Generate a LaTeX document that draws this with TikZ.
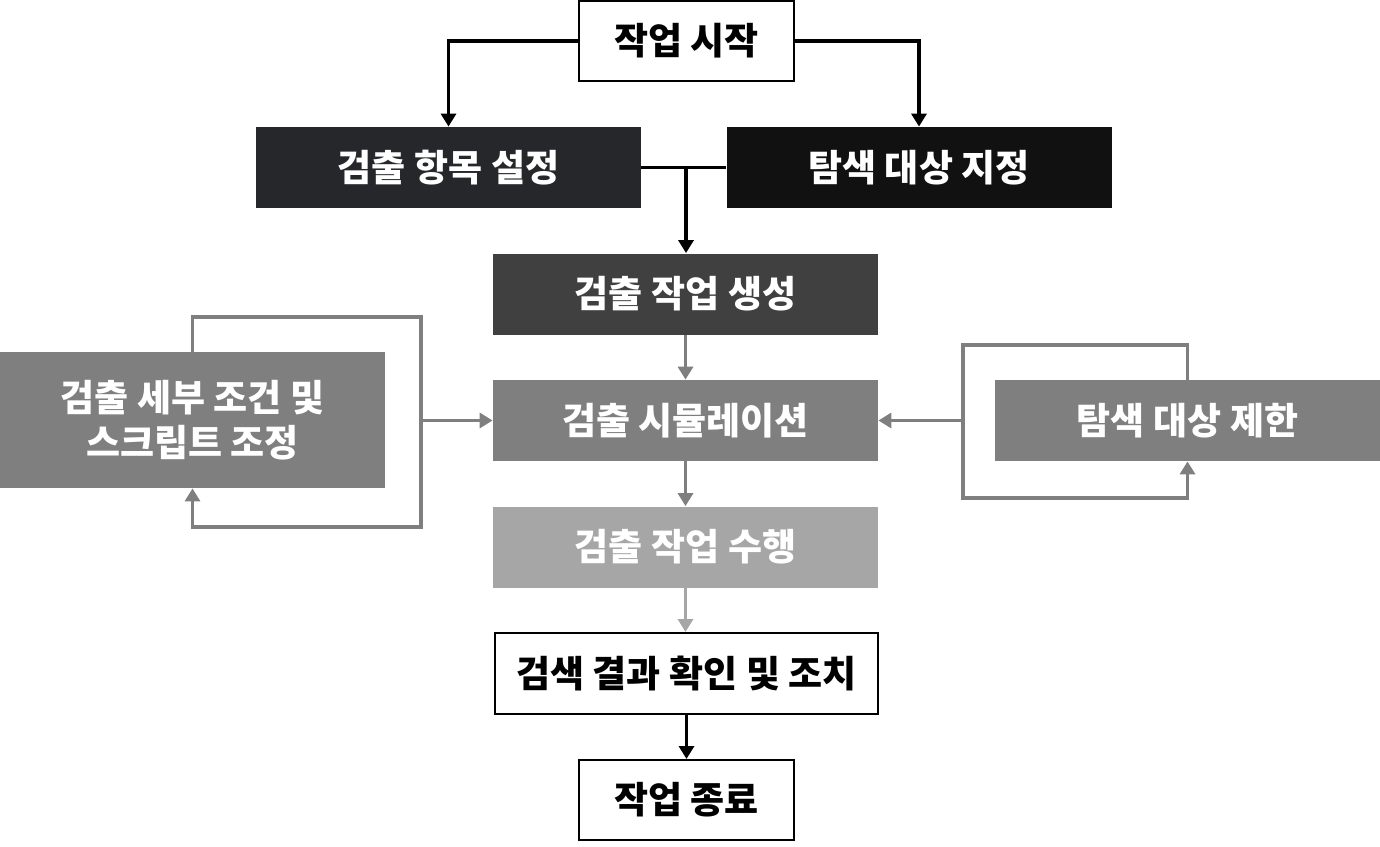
\documentclass[tikz,border=0pt]{standalone}
\usepackage{fontspec}
\newfontfamily\kr{Noto Sans CJK KR}
\usetikzlibrary{arrows.meta}
\definecolor{cA}{HTML}{26272B}
\definecolor{cB}{HTML}{111111}
\definecolor{cC}{HTML}{404040}
\definecolor{cD}{HTML}{7F7F7F}
\definecolor{cE}{HTML}{A6A6A6}
\begin{document}
\begin{tikzpicture}[x=0.5pt,y=-0.5pt,
  base/.style={rectangle, inner sep=0pt, align=center, font=\kr\bfseries\fontsize{18.5pt}{22.5pt}\selectfont},
  dbox/.style={base, text=white, minimum width=192.5pt, minimum height=40.5pt},
  wbox/.style={base, draw=black, line width=1pt, fill=white, text=black, minimum height=40pt},
  tip/.style={-{Triangle[length=6.5pt,width=7.5pt]}},
  blk/.style={draw=black, line width=1.8pt},
  gry/.style={draw=cD, line width=1.8pt},
  lgry/.style={draw=cE, line width=1.8pt}]
\useasboundingbox (0,0) rectangle (1380,846);
\node[wbox, minimum width=107.5pt] (start) at (686.5,41) {작업 시작};
\node[dbox, fill=cA] (hangmok) at (448.5,167.5) {검출 항목 설정};
\node[dbox, fill=cB] (jijeong) at (919,167.5) {탐색 대상 지정};
\node[dbox, fill=cC] (saeng) at (685.5,294) {검출 작업 생성};
\node[dbox, fill=cD] (sim) at (685.5,420.5) {검출 시뮬레이션};
\node[dbox, fill=cE] (suhaeng) at (685.5,547) {검출 작업 수행};
\node[wbox, minimum width=191.5pt, minimum height=40.5pt] (result) at (686.5,673.5) {검색 결과 확인 및 조치};
\node[wbox, minimum width=107.5pt] (end) at (686.5,800) {작업 종료};
\node[dbox, fill=cD, minimum height=68pt] (left) at (192.5,420) {검출 세부 조건 및\\스크립트 조정};
\node[dbox, fill=cD] (right) at (1187.5,420.5) {탐색 대상 제한};
\coordinate (lt) at (421,317);
\coordinate (lb) at (421,527);
\coordinate (rt) at (963,345);
\coordinate (rb) at (963,498);
\coordinate (mid) at (686,167.5);
\draw[blk, tip] (start.west) -| (hangmok.north);
\draw[blk, tip] (start.east) -| (jijeong.north);
\draw[blk] (hangmok.east) -- (jijeong.west);
\draw[blk, tip] (mid) -- (mid |- saeng.north);
\draw[gry, tip] (saeng.south) -- (sim.north);
\draw[gry, tip] (sim.south) -- (suhaeng.north);
\draw[lgry, tip] (suhaeng.south) -- (suhaeng.south |- result.north);
\draw[blk, tip] (result.south) -- (end.north);
\draw[gry, tip] (left.north) |- (lt) -- (lb) -| (left.south);
\draw[gry, tip] (lt |- sim.west) -- (sim.west);
\draw[gry, tip] (right.north) |- (rt) -- (rb) -| (right.south);
\draw[gry, tip] (rt |- sim.east) -- (sim.east);
\end{tikzpicture}
\end{document}
